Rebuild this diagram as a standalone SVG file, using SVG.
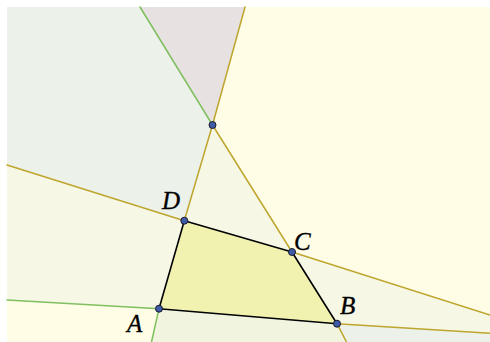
<svg xmlns="http://www.w3.org/2000/svg" width="490" height="342" viewBox="0 0 490 342">
<style>
.reg{stroke:none}
.olive{stroke:#bea52d;stroke-width:1.5;fill:none;stroke-linecap:round}
.green{stroke:#7fbf5e;stroke-width:1.5;fill:none;stroke-linecap:round}
.pt{fill:#3f5ca8;stroke:#1a1a2e;stroke-width:1}
.lbl{font-family:"Liberation Serif","DejaVu Serif",serif;font-style:italic;font-size:25px;fill:#000;stroke:#000;stroke-width:0.35}
</style>
<rect x="0" y="0" width="490" height="342" fill="#ffffff"/>
<g id="regions">
<polygon class="reg" fill="#e7e2e1" points="140,7 245,7 212.5,125"/>
<polygon class="reg" fill="#ecf1ea" points="7,7 140,7 212.5,125 184.3,220.7 7,165"/>
<polygon class="reg" fill="#fffde6" points="245,7 490,7 490,315 292,252 212.5,125"/>
<polygon class="reg" fill="#f6f8e5" points="212.5,125 184.3,220.7 292,252"/>
<polygon class="reg" fill="#f6f8e5" points="7,165 184.3,220.7 159,308.7 7,300"/>
<polygon class="reg" fill="#f6f8e5" points="292,252 490,315 490,333.3 337,323.7"/>
<polygon class="reg" fill="#fffde6" points="7,300 159,308.7 151.5,342 7,342"/>
<polygon class="reg" fill="#f1f5df" points="159,308.7 337,323.7 346.5,342 151.5,342"/>
<polygon class="reg" fill="#ecf1ea" points="337,323.7 490,333.3 490,342 346.5,342"/>
</g>
<g id="connectors">
<polyline class="olive" points="245,7 212.5,125 184.3,220.7"/>
<line class="olive" x1="212.5" y1="125" x2="292" y2="252"/>
<line class="olive" x1="7" y1="165" x2="184.3" y2="220.7"/>
<line class="olive" x1="292" y1="252" x2="490" y2="315"/>
<line class="olive" x1="337" y1="323.7" x2="490" y2="333.3"/>
<line class="olive" x1="337" y1="323.7" x2="346.5" y2="342"/>
<line class="green" x1="140" y1="7" x2="212.5" y2="125"/>
<line class="green" x1="7" y1="300" x2="159" y2="308.7"/>
<line class="green" x1="159" y1="308.7" x2="151.5" y2="342"/>
</g>
<g id="quad">
<polygon points="159,308.7 337,323.7 292,252 184.3,220.7" fill="#f1f2b0" stroke="#000" stroke-width="1.6" stroke-linejoin="round"/>
</g>
<g id="P"><circle class="pt" cx="212.5" cy="125" r="3.5"/></g>
<g id="A"><circle class="pt" cx="159" cy="308.7" r="3.5"/><text class="lbl" x="127" y="332">A</text></g>
<g id="B"><circle class="pt" cx="337" cy="323.7" r="3.5"/><text class="lbl" x="340" y="313.5">B</text></g>
<g id="C"><circle class="pt" cx="292" cy="252" r="3.5"/><text class="lbl" x="294" y="250">C</text></g>
<g id="D"><circle class="pt" cx="184.3" cy="220.7" r="3.5"/><text class="lbl" x="162" y="208.5">D</text></g>
</svg>
